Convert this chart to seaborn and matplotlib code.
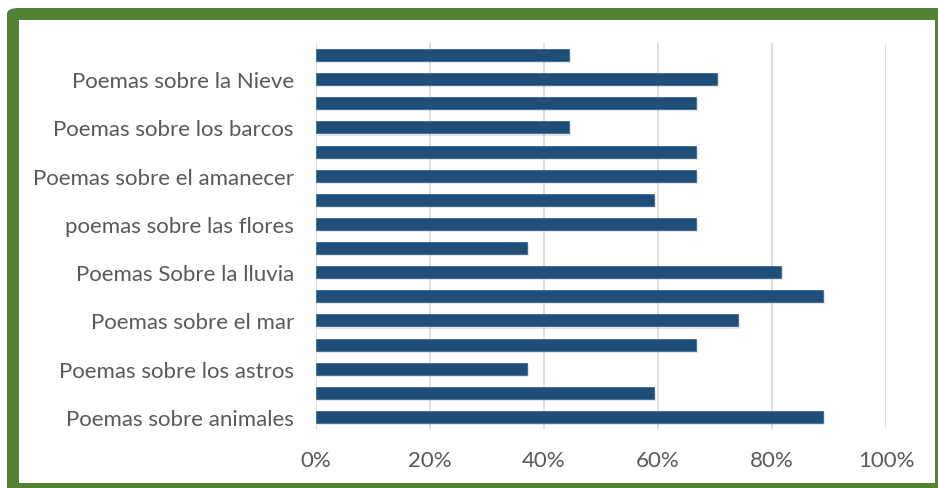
import matplotlib
matplotlib.use("Agg")
import matplotlib.pyplot as plt
import matplotlib.patheffects as pe
from matplotlib.patches import Rectangle, FancyBboxPatch
import seaborn as sns
import pandas as pd

# Categories listed from top to bottom (unlabeled rows are skipped by the axis in the original)
labels = ["", "Poemas sobre la Nieve", "", "Poemas sobre los barcos", "",
          "Poemas sobre el amanecer", "", "poemas sobre las flores", "",
          "Poemas Sobre la lluvia", "", "Poemas sobre el mar", "",
          "Poemas sobre los astros", "", "Poemas sobre animales"]
values = [44.4, 70.4, 66.7, 44.4, 66.7, 66.7, 59.3, 66.7, 37.0, 81.5,
          88.9, 74.1, 66.7, 37.0, 59.3, 88.9]
xticks = [0, 20, 40, 60, 80, 100]

keys = [f"row{i}" for i in range(len(values))]
df = pd.DataFrame({"key": keys, "value": values})

sns.set_style("white")
plt.rcParams["font.family"] = ["Lato", "DejaVu Sans"]

W, H = 938, 489
fig = plt.figure(figsize=(W / 100, H / 100), dpi=100)
fig.patch.set_facecolor("white")

# Green frame
green = "#548235"
fig.patches.append(FancyBboxPatch((7 / W, -0.05), 1.1, 1 - 9 / H + 0.05,
                                  boxstyle="round,pad=0,rounding_size=0.012",
                                  transform=fig.transFigure, facecolor=green,
                                  edgecolor="none", zorder=-3))
fig.patches.append(Rectangle((19 / W, 1 - 484 / H), (935 - 19) / W, (484 - 21) / H,
                             transform=fig.transFigure, facecolor="white",
                             edgecolor="none", zorder=-2))

ax = fig.add_axes([316 / W, 1 - 430 / H, (886 - 316) / W, (430 - 44) / H])
ax.set_zorder(1)
ax.set_facecolor("none")

sns.barplot(data=df, y="key", x="value", orient="h", color="#1F4E79",
            width=0.5, saturation=1, ax=ax, zorder=3)

for p in ax.patches:
    p.set_edgecolor("#3A6B98")
    p.set_linewidth(0.6)
    p.set_path_effects([pe.SimplePatchShadow(offset=(1.5, -1.5), shadow_rgbFace="#000000", alpha=0.1),
                        pe.Normal()])

ax.set_xlim(0, 100)
ax.set_ylim(len(values) - 0.5, -0.5)
ax.set_xticks(xticks)
ax.set_xticklabels([f"{t}%" for t in xticks])
ax.set_yticks(range(len(labels)))
ax.set_yticklabels(labels)
ax.set_xlabel("")
ax.set_ylabel("")

ax.grid(axis="x", color="#D9D9D9", linewidth=1.2, zorder=0)
ax.grid(axis="y", visible=False)
ax.set_axisbelow(True)
for s in ax.spines.values():
    s.set_visible(False)

ax.tick_params(axis="both", length=0, labelsize=16, colors="#595959")
ax.tick_params(axis="y", pad=16)
ax.tick_params(axis="x", pad=15)

fig.savefig("out.png", dpi=100)
